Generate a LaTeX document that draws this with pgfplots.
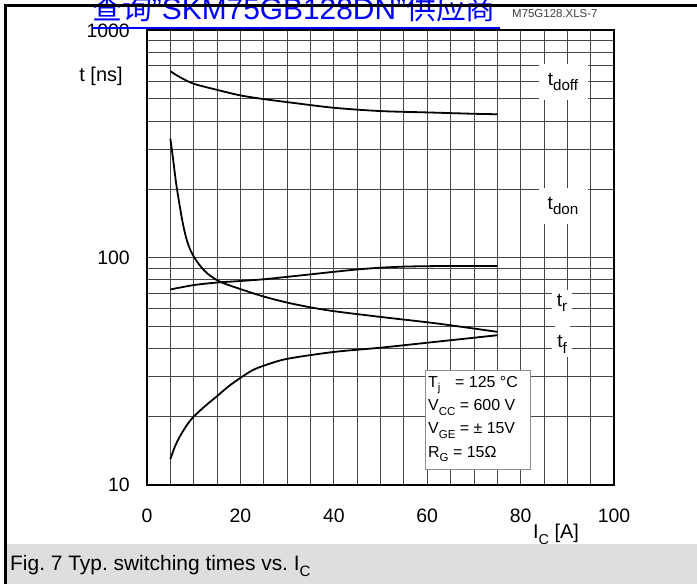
\documentclass[border=0pt]{standalone}
\usepackage{fontspec}
\setmainfont{Liberation Sans}
\newfontfamily\cjk{Noto Sans CJK SC}
\usepackage{pgfplots}
\pgfplotsset{compat=1.18}
\frenchspacing
\newcommand\fs[1]{\fontsize{#1}{#1}\selectfont}
\newcommand\sub[2][0.72]{\raisebox{-0.28em}{\scalebox{#1}{#2}}}

\begin{document}
\begin{tikzpicture}[x=1bp,y=1bp]
\path[use as bounding box] (0,0) rectangle (697,584);
\clip (0,0) rectangle (697,584);
\fill[white] (0,0) rectangle (697,584);
% grey caption strip
\fill[black!13] (7,0) rectangle (697,40);

\begin{axis}[
  at={(147bp,99bp)}, anchor=south west, scale only axis,
  width=467bp, height=454.5bp,
  xmin=0, xmax=100, ymin=10, ymax=1000, ymode=log,
  xtick={0,20,40,60,80,100},
  minor xtick={5,10,15,25,30,35,45,50,55,65,70,75,85,90,95},
  ytick={10,100,1000}, yticklabels={10,100,1000},
  minor ytick={20,30,40,50,60,70,80,90,200,300,400,500,600,700,800,900},
  grid=both,
  major grid style={black!72, line width=0.8bp},
  minor grid style={black!72, line width=0.8bp},
  major tick length=0pt, minor tick length=0pt,
  axis line style={line width=2bp},
  /pgf/number format/assume math mode=true,
  ticklabel style={font=\fs{19.5}},
  xticklabel style={anchor=center, yshift=-31bp},
  yticklabel style={anchor=east, inner sep=0pt, xshift=-17bp},
]
% t_doff
\addplot[black, line width=1.8bp, smooth] coordinates {
  (5,662) (7,624) (10,583) (15,548) (20,518) (25,499) (30,484)
  (40,457) (50,442) (60,436) (70,430) (75,428)
};
% t_don
\addplot[black, line width=1.8bp, smooth] coordinates {
  (5,72.5) (10,75.8) (15,77.8) (20,79) (25,80.4) (30,82.4) (35,84.5)
  (40,86.7) (45,88.8) (50,90.4) (55,91.4) (60,91.8) (65,92) (75,92)
};
% t_r
\addplot[black, line width=1.8bp, smooth] coordinates {
  (5,334) (5.6,270) (6.35,205) (7.55,146) (8.4,122) (9.3,108) (10.3,99)
  (11.5,91.5) (13,85) (15.6,78.5) (20,72.8) (25,67.5) (30,63.5) (35,60.5)
  (40,58.2) (50,54.9) (62,51.4) (75,47.2)
};
% t_f
\addplot[black, line width=1.8bp, smooth] coordinates {
  (5,13) (6,14.8) (7,16.3) (8.5,18.3) (10,20) (12.5,22.3) (15,24.6)
  (17.5,27.2) (20,29.6) (22.5,31.9) (25,33.5) (30,35.9)
  (40,38.5) (50,40.2) (62,42.7) (75,45.6)
};
\end{axis}

% curve labels
\node[fill=white, inner sep=0pt, minimum width=49bp, minimum height=36bp] at (563,502) {\fs{19}t\sub[0.8]{doff}};
\node[fill=white, inner sep=0pt, minimum width=49bp, minimum height=36bp] at (563,378) {\fs{19}t\sub[0.8]{don}};
\node[fill=white, inner xsep=5bp, inner ysep=4bp] at (562,281) {\fs{19}t\sub[0.8]{r}};
\node[fill=white, inner xsep=5bp, inner ysep=4bp] at (562,239.5) {\fs{19}t\sub[0.8]{f}};
\fill[white] (555,250) rectangle (570,270);

% conditions box
\draw[black!45, fill=white, line width=1bp] (425.7,114) rectangle (530,213.3);
\begin{scope}[every node/.style={anchor=base west, inner sep=0pt, font=\fs{16}}]
\node at (428,196.7) {\makebox[27bp][l]{T\sub{j}}= 125 °C};
\node at (428,173.3) {V\sub{CC} = 600 V};
\node at (428,150) {V\sub{GE} = ± 15V};
\node at (428,126.6) {R\sub{G} = 15Ω};
\end{scope}

% axis titles
\node[font=\fs{20}] at (101,508) {t [ns]};
\node[font=\fs{20}, anchor=base west, inner sep=0pt] at (533,45) {I\sub{C} [A]};

% caption
\node[font=\fs{21}, anchor=base west, inner sep=0pt] at (10,13.5) {Fig. 7 Typ. switching times vs. I\sub{C}};

% header texts
\node[font=\fs{11.5}, text=black!75, anchor=base west, inner sep=0pt] at (512,566) {M75G128.XLS-7};
\node[font=\fs{30}, text=blue, anchor=base west, inner sep=0pt] at (92,564) {{\cjk 查询}"SKM75GB128DN"{\cjk 供应商}};
\draw[blue, line width=2bp] (92,555.5) -- (500,555.5);

% outer frame
\draw[black, line width=3.3bp] (5.7,0) -- (5.7,580);
\draw[black, line width=3.3bp] (4,578.3) -- (697,578.3);
\end{tikzpicture}
\end{document}
